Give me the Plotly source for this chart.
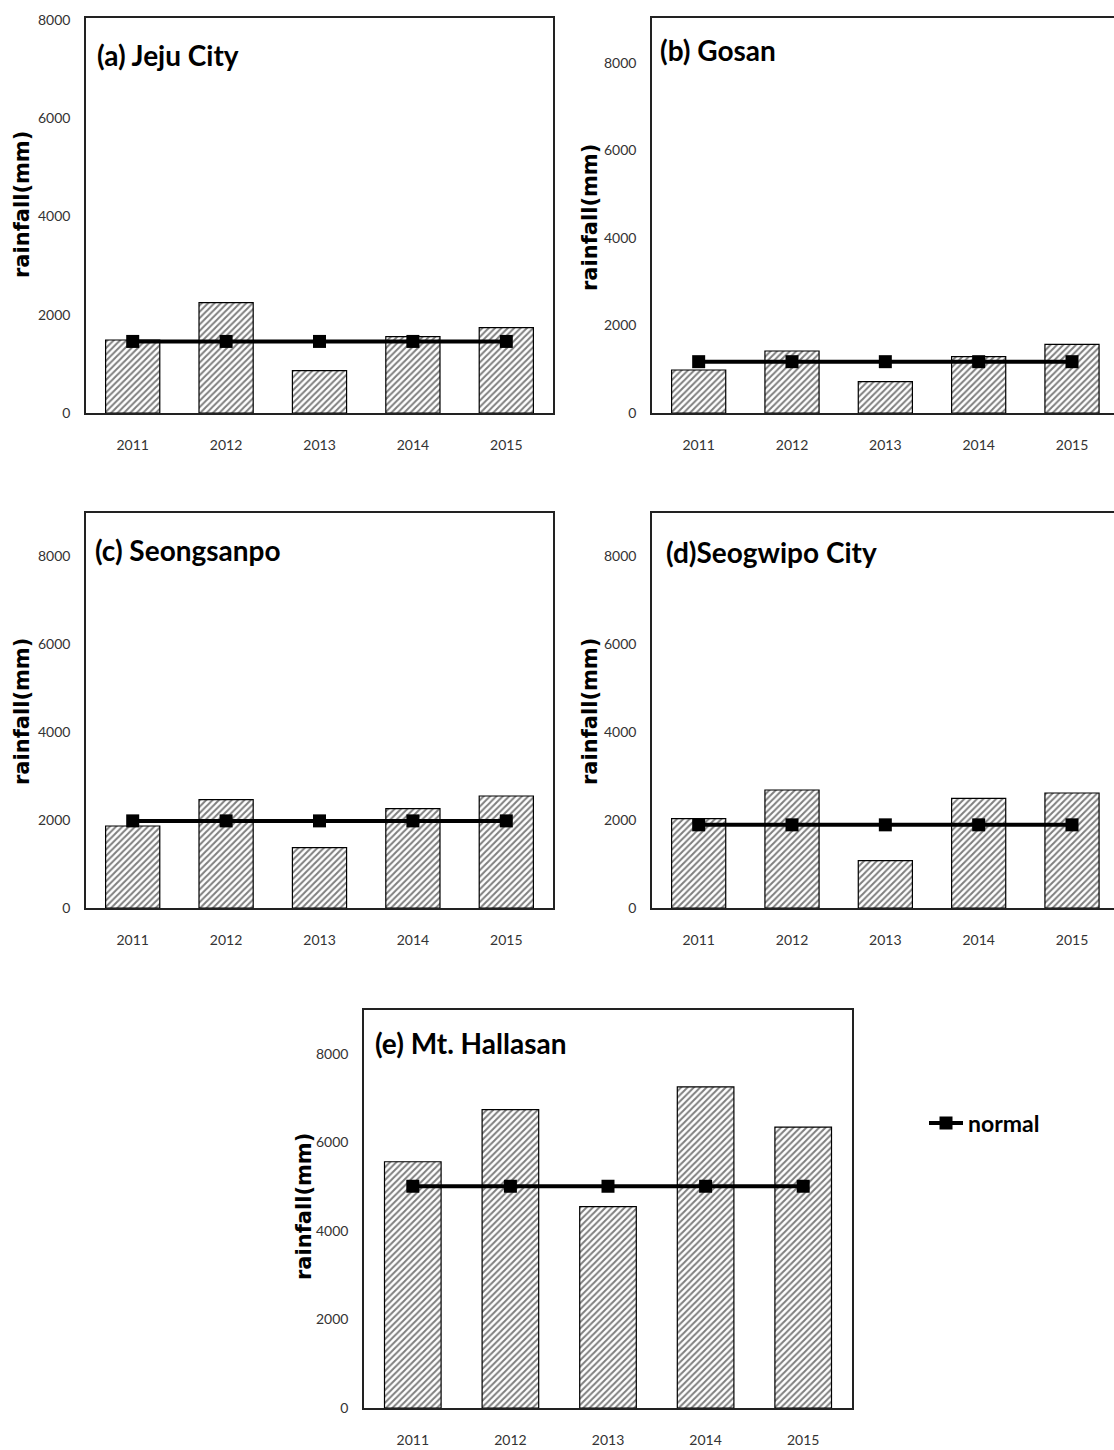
import plotly.graph_objects as go

W, H = 1114, 1450

years = ["2011", "2012", "2013", "2014", "2015"]
titles = ["(a) Jeju City", "(b) Gosan", "(c) Seongsanpo", "(d)Seogwipo City", "(e) Mt. Hallasan"]

rain_jeju = [1486, 2245, 861, 1553, 1737]
rain_gosan = [983, 1417, 716, 1288, 1570]
rain_seongsanpo = [1864, 2461, 1370, 2257, 2545]
rain_seogwipo = [2030, 2682, 1075, 2492, 2614]
rain_hallasan = [5565, 6744, 4551, 7256, 6349]

normal_jeju = [1457, 1457, 1457, 1457, 1457]
normal_gosan = [1173, 1173, 1173, 1173, 1173]
normal_seongsanpo = [1980, 1980, 1980, 1980, 1980]
normal_seogwipo = [1890, 1890, 1890, 1890, 1890]
normal_hallasan = [5011, 5011, 5011, 5011, 5011]

ytick_vals = [0, 2000, 4000, 6000, 8000]
ytick_text = ["0", "2000", "4000", "6000", "8000"]

rain_sets = [rain_jeju, rain_gosan, rain_seongsanpo, rain_seogwipo, rain_hallasan]
normal_sets = [normal_jeju, normal_gosan, normal_seongsanpo, normal_seogwipo, normal_hallasan]

# panel boxes in pixels: (left, right, top, bottom), y max, x range max, mirror right
panels = [
    (86, 553, 18, 413, 8041, 4.5, True),
    (652, 1114, 18, 413, 9029, 4.45, False),
    (86, 553, 513, 908, 8977, 4.5, True),
    (652, 1114, 513, 908, 8977, 4.45, False),
    (364, 852, 1010, 1408, 8994, 4.5, True),
]
title_pos = [(95, 55), (658, 50), (93, 550), (664, 552), (373, 1043)]
ylab_pos = [(22, 205), (590, 218), (22, 712), (590, 712), (304, 1207)]

fig = go.Figure()
layout = {}
for i, (l, r, t, b, ymax, xmax, mirr) in enumerate(panels):
    n = i + 1
    xa = "x" if n == 1 else f"x{n}"
    ya = "y" if n == 1 else f"y{n}"
    fig.add_trace(go.Bar(
        x=years, y=rain_sets[i], xaxis=xa, yaxis=ya,
        marker=dict(color="white", line=dict(color="black", width=1.2),
                    pattern=dict(shape="/", fgcolor="black", bgcolor="white", size=4.5, solidity=0.45)),
        showlegend=False,
    ))
    fig.add_trace(go.Scatter(
        x=years, y=normal_sets[i], xaxis=xa, yaxis=ya, mode="lines+markers",
        line=dict(color="black", width=4),
        marker=dict(symbol="square", size=13, color="black"),
        name="normal", showlegend=(n == 5),
    ))
    xkey = "xaxis" if n == 1 else f"xaxis{n}"
    ykey = "yaxis" if n == 1 else f"yaxis{n}"
    layout[xkey] = dict(
        domain=[l / W, r / W], anchor=ya, type="category", range=[-0.5, xmax],
        showline=True, linecolor="#222", linewidth=1.5, mirror=True,
        ticks="", ticklabelstandoff=18, showgrid=False, automargin=False,
        tickfont=dict(family="Lato", size=14, color="#333"),
    )
    layout[ykey] = dict(
        domain=[1 - b / H, 1 - t / H], anchor=xa, range=[0, ymax],
        showline=True, linecolor="#222", linewidth=1.5, mirror=mirr,
        tickvals=ytick_vals, ticktext=ytick_text, ticks="", ticklabelstandoff=11,
        showgrid=False, zeroline=False, automargin=False,
        tickfont=dict(family="Lato", size=14, color="#333"),
    )

annotations = []
for (tx, ty), txt in zip(title_pos, titles):
    annotations.append(dict(
        x=tx / W, y=1 - ty / H, xref="paper", yref="paper", text=f"<b>{txt}</b>",
        showarrow=False, xanchor="left", yanchor="middle",
        font=dict(family="Lato", size=28, color="black"),
    ))
for (lx, ly) in ylab_pos:
    annotations.append(dict(
        x=lx / W, y=1 - ly / H, xref="paper", yref="paper", text="<b>rainfall(mm)</b>",
        showarrow=False, xanchor="center", yanchor="middle", textangle=-90,
        font=dict(family="DejaVu Sans", size=21, color="black"),
    ))

fig.update_layout(
    **layout,
    width=W, height=H, margin=dict(l=0, r=0, t=0, b=0, autoexpand=False),
    paper_bgcolor="white", plot_bgcolor="white",
    barmode="overlay", bargap=0.42,
    annotations=annotations,
    legend=dict(x=924 / W, y=1 - 1123 / H, xanchor="left", yanchor="middle",
                font=dict(family="Lato", size=23, color="black", weight="bold"),
                bgcolor="rgba(0,0,0,0)", itemwidth=34),
)

fig.write_html("out.html")
